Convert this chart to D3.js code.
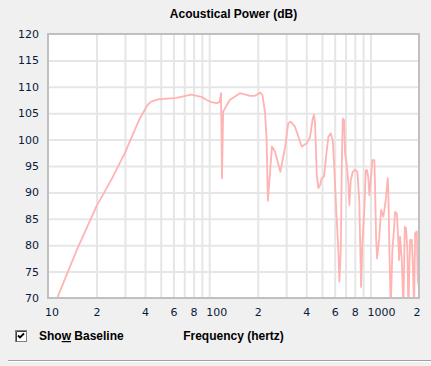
<!DOCTYPE html>
<html>
<head>
<meta charset="utf-8">
<script src="https://cdn.jsdelivr.net/npm/d3@7"></script>
<style>
  html, body { margin: 0; padding: 0; background: #f0f0f0; }
  svg { display: block; }
</style>
</head>
<body>
<div id="chart"></div>
<script>
// Acoustical power response (Hz, dB)
const freq = [11.4, 15.1, 20, 25, 30, 36.7, 39.8, 41.5, 43.7, 48.1, 62.5, 77.4, 89.3, 96.5, 103, 111.3, 116, 118.3, 120, 122,
  134, 155, 179.5, 192, 207, 214, 222, 227, 231, 245, 256, 276, 296, 309, 320,
  340.6, 374.8, 402.5, 422, 438.6, 446.8, 453.3, 464.5, 475.2, 486.9, 498.8, 515.5, 530.5, 548.1, 567.2, 583.7, 594.7,
  611.9, 632.2, 641.3, 654.5, 663.8, 673.4, 686, 695.9, 712.9, 729.4, 739.9, 754.8, 776.7, 802.6, 829.4, 841.3, 853.4,
  862.1, 874.5, 890.7, 916.5, 935, 952.6, 970.5, 984.4, 1004.4, 1027.5, 1057.3, 1067.9, 1083.2, 1098.8, 1130.6,
  1163.5, 1202.3, 1244.3, 1280.3, 1291.3, 1309.9, 1336.4, 1367.2, 1401, 1421.2, 1456, 1477, 1504.8, 1526.4, 1564,
  1600, 1632.5, 1663, 1694, 1718.6, 1761, 1804, 1830, 1865, 1891.5, 1938, 1966, 2000];
const power = [70, 79.1, 87.4, 92.7, 97.5, 103.7, 105.6, 106.6, 107.2, 107.6, 107.9, 108.5, 108.1, 107.5, 107.1, 106.9, 107.1, 108.8, 92.7, 105.3,
  107.5, 108.8, 108.3, 108.3, 108.9, 108.4, 105, 99.9, 88.4, 98.7, 97.7, 93.9, 98.7, 103.1, 103.4,
  102.4, 98.7, 99.3, 100.5, 104, 104.7, 103.1, 93.3, 90.8, 91.4, 92.7, 93, 96.8, 100.5, 101.2, 99.9, 95.5,
  87.3, 79.1, 73.1, 79.1, 94.9, 104, 103.7, 97.4, 95.2, 91.7, 87.6, 92.3, 93.9, 94.3, 93.9, 91.1, 88,
  81, 72.1, 80.4, 86.7, 94.2, 94.2, 92.7, 89.5, 92.3, 96.1, 96.1, 91.1, 81.6, 77.5, 81,
  86.7, 85.4, 88.6, 92.7, 89.8, 79.1, 68, 79.1, 83.2, 86.3, 86, 82.9, 77.2, 81.6, 77.2,
  68, 83.5, 83.2, 79.1, 68, 81, 81, 76.6, 68, 82.3, 82.6, 73.4, 72];

const yTicks = [70, 75, 80, 85, 90, 95, 100, 105, 110, 115, 120];
const xGridValues = [20, 30, 40, 50, 60, 70, 80, 90, 100, 200, 300, 400, 500, 600, 700, 800, 900, 1000];
const xTickValues = [10, 20, 40, 60, 80, 100, 200, 400, 600, 800, 1000, 2000];
const xTickLabels = ['10', '2', '4', '6', '8', '100', '2', '4', '6', '8', '1000', '2'];

const width = 431, height = 366;
const plotLeft = 48, plotRight = 419, plotTop = 34, plotBottom = 298;

const svg = d3.select('#chart').append('svg')
  .attr('width', width)
  .attr('height', height)
  .style('background', '#f0f0f0');

const x = d3.scaleLog().domain([10, 2000]).range([plotLeft, plotRight]);
const y = d3.scaleLinear().domain([70, 120]).range([plotBottom, plotTop]);

// Title
svg.append('text')
  .attr('x', (plotLeft + plotRight) / 2)
  .attr('y', 18)
  .attr('text-anchor', 'middle')
  .attr('font-family', 'Liberation Sans, Arial, sans-serif')
  .attr('font-weight', 'bold')
  .attr('font-size', '12px')
  .attr('fill', '#000')
  .text('Acoustical Power (dB)');

// Plot background
svg.append('rect')
  .attr('x', plotLeft).attr('y', plotTop)
  .attr('width', plotRight - plotLeft).attr('height', plotBottom - plotTop)
  .attr('fill', '#ffffff');

// Grid lines
const grid = svg.append('g').attr('class', 'grid');
grid.append('g')
  .attr('transform', `translate(0,${plotBottom})`)
  .call(d3.axisBottom(x).tickValues(xGridValues).tickSize(-(plotBottom - plotTop)).tickFormat(''))
  .call(g => g.select('.domain').remove())
  .call(g => g.selectAll('line').attr('stroke', '#e6e6e6').attr('stroke-width', 2));
grid.append('g')
  .attr('transform', `translate(${plotLeft},0)`)
  .call(d3.axisLeft(y).tickValues(yTicks.slice(1, -1)).tickSize(-(plotRight - plotLeft)).tickFormat(''))
  .call(g => g.select('.domain').remove())
  .call(g => g.selectAll('line').attr('stroke', '#e6e6e6').attr('stroke-width', 2));

// Curve
svg.append('clipPath').attr('id', 'plotClip')
  .append('rect')
  .attr('x', plotLeft).attr('y', plotTop)
  .attr('width', plotRight - plotLeft).attr('height', plotBottom - plotTop);

const line = d3.line()
  .x((d, i) => x(freq[i]))
  .y(d => y(d));

svg.append('path')
  .datum(power)
  .attr('clip-path', 'url(#plotClip)')
  .attr('fill', 'none')
  .attr('stroke', '#ffb3b3')
  .attr('stroke-width', 1.8)
  .attr('stroke-linejoin', 'round')
  .attr('d', line);

// Plot border
svg.append('rect')
  .attr('x', plotLeft).attr('y', plotTop)
  .attr('width', plotRight - plotLeft).attr('height', plotBottom - plotTop)
  .attr('fill', 'none')
  .attr('stroke', '#c0c0c0')
  .attr('stroke-width', 2);

// Y axis labels
const yAxis = svg.append('g')
  .attr('transform', `translate(${plotLeft},0)`)
  .call(d3.axisLeft(y).tickValues(yTicks).tickSize(0).tickPadding(9));
yAxis.select('.domain').remove();
yAxis.selectAll('text')
  .attr('font-family', 'DejaVu Sans, Verdana, sans-serif')
  .attr('font-size', '11px')
  .attr('fill', '#0a1a3a');

// X axis labels (first digit sits on the tick)
const xAxis = svg.append('g')
  .attr('transform', `translate(0,${plotBottom})`)
  .call(d3.axisBottom(x).tickValues(xTickValues).tickSize(0).tickPadding(10)
    .tickFormat((d, i) => xTickLabels[i]));
xAxis.select('.domain').remove();
xAxis.selectAll('text')
  .attr('font-family', 'DejaVu Sans, Verdana, sans-serif')
  .attr('font-size', '11px')
  .attr('fill', '#0a1a3a')
  .attr('text-anchor', 'start')
  .attr('dx', (d, i) => i === xTickValues.length - 1 ? -6 : -3.5);

// Axis caption
svg.append('text')
  .attr('x', (plotLeft + plotRight) / 2)
  .attr('y', 340)
  .attr('text-anchor', 'middle')
  .attr('font-family', 'Liberation Sans, Arial, sans-serif')
  .attr('font-weight', 'bold')
  .attr('font-size', '12px')
  .attr('fill', '#000')
  .text('Frequency (hertz)');

// "Show Baseline" checkbox
const cb = svg.append('g').attr('transform', 'translate(15,330)');
cb.append('rect')
  .attr('x', 0.5).attr('y', 0.5).attr('width', 11).attr('height', 11)
  .attr('fill', '#ffffff').attr('stroke', '#808080');
cb.append('path')
  .attr('d', 'M1.5,11.5 V1.5 H11')
  .attr('fill', 'none').attr('stroke', '#404040');
cb.append('path')
  .attr('d', 'M3,5.5 L5,7.5 L9,3.5')
  .attr('fill', 'none').attr('stroke', '#000').attr('stroke-width', 1.8);

const show = svg.append('text')
  .attr('x', 39)
  .attr('y', 340)
  .attr('font-family', 'Liberation Sans, Arial, sans-serif')
  .attr('font-weight', 'bold')
  .attr('font-size', '12px')
  .attr('fill', '#000');
show.append('tspan').text('Sho');
show.append('tspan').style('text-decoration', 'underline').text('w');
show.append('tspan').text(' Baseline');

// Separator
svg.append('line')
  .attr('x1', 8).attr('x2', width).attr('y1', 360.5).attr('y2', 360.5)
  .attr('stroke', '#a0a0a0');
svg.append('line')
  .attr('x1', 8).attr('x2', width).attr('y1', 361.5).attr('y2', 361.5)
  .attr('stroke', '#ffffff');
</script>
</body>
</html>
